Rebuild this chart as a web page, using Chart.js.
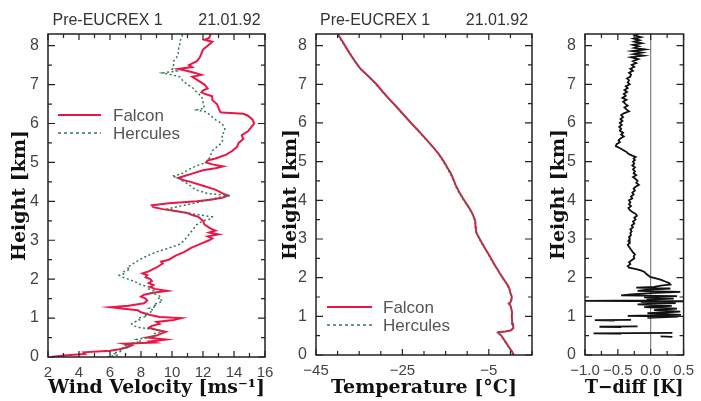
<!DOCTYPE html>
<html>
<head>
<meta charset="utf-8">
<script src="https://cdn.jsdelivr.net/npm/chart.js@4.4.1/dist/chart.umd.min.js"></script>
<style>
  html, body { margin: 0; padding: 0; background: #fff; }
  #wrap { position: relative; width: 701px; height: 401px; overflow: hidden; background: #fff; }
  canvas { position: absolute; top: 0; }
  #windChart { left: 0; }
  #tempChart { left: 275px; }
  #diffChart { left: 545px; }
</style>
</head>
<body>
<div id="wrap">
  <canvas id="windChart" width="285" height="401"></canvas>
  <canvas id="tempChart" width="270" height="401"></canvas>
  <canvas id="diffChart" width="156" height="401"></canvas>
</div>
<script>
// --- data ---
const TITLE = 'Pre-EUCREX 1        21.01.92';
const HEIGHT_MAX = 8.3;
const heightTicks = [0, 1, 2, 3, 4, 5, 6, 7, 8];
const windTicks = [2, 4, 6, 8, 10, 12, 14, 16];
const tempTicks = [-45, -25, -5];
const diffTicks = [-1.0, -0.5, 0.0, 0.5];

// wind velocity [m/s] vs height [km]
const falconWindH = [
  0.0, 0.04, 0.08, 0.12, 0.16, 0.2, 0.25, 0.3, 0.34, 0.37,
  0.4, 0.45, 0.5, 0.55, 0.6, 0.65, 0.7, 0.75, 0.8, 0.85,
  0.9, 0.95, 1.0, 1.03, 1.08, 1.15, 1.2, 1.25, 1.28, 1.32,
  1.38, 1.45, 1.5, 1.55, 1.6, 1.65, 1.7, 1.75, 1.8, 1.85,
  1.9, 1.95, 2.0, 2.05, 2.1, 2.15, 2.2, 2.3, 2.4, 2.45,
  2.5, 2.6, 2.7, 2.8, 2.9, 3.0, 3.05, 3.1, 3.15, 3.2,
  3.25, 3.3, 3.4, 3.5, 3.6, 3.65, 3.7, 3.75, 3.8, 3.85,
  3.9, 3.95, 4.0, 4.05, 4.1, 4.15, 4.2, 4.3, 4.4, 4.5,
  4.55, 4.6, 4.65, 4.7, 4.8, 4.85, 4.9, 4.95, 5.0, 5.05,
  5.1, 5.2, 5.3, 5.4, 5.5, 5.6, 5.7, 5.8, 5.9, 6.0,
  6.1, 6.2, 6.25, 6.28, 6.3, 6.4, 6.5, 6.6, 6.7, 6.75,
  6.8, 6.85, 6.9, 7.0, 7.1, 7.2, 7.25, 7.3, 7.35, 7.4,
  7.45, 7.5, 7.6, 7.7, 7.8, 7.9, 8.0, 8.1, 8.15, 8.2,
  8.3
];
const falconWind = [
  2.2, 3.0, 4.4, 4.3, 6.0, 6.6, 7.1, 7.4, 6.9, 8.9,
  8.6, 9.6, 8.4, 9.0, 9.3, 9.6, 9.0, 8.5, 8.7, 9.2,
  9.0, 10.1, 10.6, 9.2, 8.6, 8.0, 7.8, 6.6, 6.0, 7.2,
  8.2, 8.4, 8.3, 8.0, 8.2, 8.8, 9.7, 8.9, 8.6, 8.8,
  8.5, 8.7, 8.6, 8.3, 8.4, 8.1, 8.5, 9.0, 9.4, 9.3,
  9.8, 10.2, 10.8, 11.2, 11.8, 12.4, 12.6, 12.3, 13.0, 12.4,
  12.8, 12.5, 12.1, 12.0, 11.7, 11.3, 11.0, 10.2, 9.4, 8.8,
  8.7, 9.8, 11.6, 12.6, 13.3, 13.6, 13.3, 12.8, 12.0, 11.2,
  10.7, 10.4, 10.8, 11.2, 12.0, 12.8, 13.3, 12.6, 12.2, 12.3,
  12.8, 13.5, 13.9, 14.2, 14.3, 14.6, 14.5, 14.9, 15.1, 15.3,
  15.2, 14.9, 14.6, 13.2, 13.1, 13.0, 12.9, 12.6, 12.6, 12.2,
  11.9, 12.0, 12.3, 12.1, 11.7, 11.3, 11.9, 11.5, 11.0, 10.4,
  11.3, 11.1, 11.6, 11.8, 11.9, 12.0, 12.3, 12.6, 12.1, 12.4,
  12.5
];
const herculesWindH = [
  0.0, 0.05, 0.1, 0.15, 0.2, 0.25, 0.3, 0.35, 0.4, 0.45,
  0.5, 0.55, 0.6, 0.65, 0.7, 0.75, 0.8, 0.85, 0.9, 0.95,
  1.0, 1.05, 1.1, 1.15, 1.2, 1.25, 1.3, 1.35, 1.4, 1.45,
  1.5, 1.55, 1.6, 1.65, 1.7, 1.75, 1.8, 1.85, 1.9, 1.95,
  2.0, 2.05, 2.1, 2.15, 2.2, 2.25, 2.3, 2.4, 2.5, 2.6,
  2.7, 2.8, 2.9, 3.0, 3.1, 3.2, 3.3, 3.4, 3.5, 3.55,
  3.6, 3.65, 3.7, 3.75, 3.8, 3.85, 3.9, 4.0, 4.1, 4.15,
  4.2, 4.3, 4.4, 4.5, 4.6, 4.65, 4.7, 4.8, 4.9, 5.0,
  5.1, 5.2, 5.3, 5.4, 5.5, 5.6, 5.7, 5.8, 5.9, 6.0,
  6.1, 6.2, 6.3, 6.35, 6.4, 6.5, 6.6, 6.7, 6.8, 6.9,
  7.0, 7.1, 7.2, 7.25, 7.3, 7.35, 7.4, 7.5, 7.6, 7.7,
  7.8, 7.9, 8.0, 8.1, 8.2, 8.3
];
const herculesWind = [
  5.8, 6.5, 6.2, 6.8, 6.6, 7.2, 7.0, 7.4, 8.0, 7.7,
  8.5, 8.9, 8.8, 9.4, 9.0, 8.0, 7.5, 7.4, 7.6, 7.9,
  7.8, 8.4, 8.2, 8.6, 8.8, 8.5, 9.0, 8.8, 9.2, 9.4,
  9.1, 9.3, 9.0, 8.7, 8.9, 8.5, 8.6, 8.0, 7.8, 7.5,
  7.2, 6.8, 6.6, 7.0, 6.9, 7.3, 7.1, 7.5, 7.9, 8.4,
  9.0, 9.8, 10.5, 10.8, 11.0, 11.2, 11.4, 11.6, 12.0, 12.5,
  12.6, 11.8, 11.0, 10.4, 9.7, 10.2, 10.8, 12.0, 13.0, 13.8,
  12.3, 11.5, 11.2, 10.8, 10.4, 10.0, 10.6, 11.0, 11.5, 12.2,
  12.4, 12.5, 12.6, 12.9, 13.2, 13.3, 13.2, 13.4, 13.4, 13.2,
  12.8, 12.5, 12.2, 11.6, 12.1, 12.0, 12.0, 11.9, 11.6, 11.4,
  11.0, 10.7, 10.5, 10.0, 9.4, 10.3, 10.0, 10.1, 10.1, 10.3,
  10.4, 10.4, 10.5, 10.5, 10.6, 10.7
];

// temperature [deg C] vs height [km]
const falconTempH = [
  0.00, 0.10, 0.20, 0.30, 0.40, 0.50, 0.56, 0.59, 0.61, 0.64,
  0.70, 0.80, 0.90, 1.00, 1.10, 1.20, 1.28, 1.33, 1.38, 1.45,
  1.52, 1.60, 1.70, 1.76, 1.80, 1.90, 2.00, 2.10, 2.20, 2.30,
  2.40, 2.60, 2.80, 3.00, 3.16, 3.30, 3.45, 3.55, 3.70, 3.85,
  4.00, 4.20, 4.40, 4.55, 4.70, 4.85, 5.00, 5.20, 5.40, 5.60,
  5.80, 6.00, 6.20, 6.40, 6.60, 6.80, 7.00, 7.20, 7.40, 7.60,
  7.80, 8.00, 8.15, 8.30
];
const falconTemp = [
  0.8, 0.3, -0.3, -0.9, -1.5, -2.1, -2.7, -2.8, -1.2, 0.2,
  0.7, 0.6, 0.4, 0.3, 0.4, 0.2, 0.0, -0.4, 0.1, 0.3,
  0.3, 0.0, -0.2, -0.4, -0.6, -1.2, -1.8, -2.4, -2.9, -3.5,
  -4.0, -5.0, -6.1, -7.1, -7.9, -8.0, -8.1, -8.4, -9.0, -9.8,
  -10.7, -11.8, -12.7, -13.2, -13.8, -14.6, -15.4, -16.6, -18.1, -19.7,
  -21.3, -23.0, -24.6, -26.2, -27.9, -29.5, -31.0, -32.8, -34.7, -36.0,
  -37.2, -38.3, -39.1, -40.0
];
const herculesTempH = [
  0.00, 0.15, 0.30, 0.45, 0.55, 0.58, 0.60, 0.63, 0.68, 0.80,
  0.95, 1.10, 1.25, 1.35, 1.45, 1.55, 1.65, 1.75, 1.85, 2.00,
  2.20, 2.40, 2.70, 3.00, 3.20, 3.40, 3.60, 3.80, 4.00, 4.30,
  4.60, 4.80, 5.00, 5.30, 5.60, 5.90, 6.20, 6.50, 6.80, 7.10,
  7.40, 7.70, 8.00, 8.30
];
const herculesTemp = [
  0.6, -0.1, -1.0, -1.9, -2.5, -2.9, -1.8, -0.2, 0.6, 0.5,
  0.4, 0.3, 0.1, -0.2, 0.2, 0.1, -0.1, -0.5, -0.9, -1.9,
  -2.9, -4.1, -5.6, -7.2, -7.9, -8.1, -8.5, -9.6, -10.8, -12.4,
  -13.5, -14.5, -15.5, -17.3, -19.8, -22.2, -24.7, -27.1, -29.6, -31.9,
  -34.8, -36.6, -38.4, -40.1
];

// temperature difference [K] vs height [km], null = gap in record
const diffH = [
  8.30, 8.26, 8.22, 8.18, 8.14, 8.10, 8.06, 8.02, 7.98, 7.94,
  7.90, 7.86, 7.82, 7.78, 7.74, 7.70, 7.65, 7.60, 7.55, 7.50,
  7.45, 7.40, 7.35, 7.30, 7.25, 7.20, 7.15, 7.10, 7.05, 7.00,
  6.95, 6.90, 6.85, 6.80, 6.75, 6.70, 6.65, 6.60, 6.55, 6.50,
  6.45, 6.40, 6.35, 6.30, 6.25, 6.20, 6.15, 6.10, 6.05, 6.00,
  5.95, 5.90, 5.85, 5.80, 5.75, 5.70, 5.65, 5.60, 5.55, 5.50,
  5.45, 5.40, 5.36, 5.32, 5.28, 5.24, 5.20, 5.16, 5.12, 5.08,
  5.04, 5.00, 4.95, 4.90, 4.85, 4.80, 4.75, 4.70, 4.65, 4.60,
  4.55, 4.50, 4.45, 4.40, 4.35, 4.30, 4.25, 4.20, 4.15, 4.10,
  4.05, 4.00, 3.95, 3.90, 3.85, 3.80, 3.75, 3.70, 3.65, 3.60,
  3.55, 3.50, 3.45, 3.40, 3.35, 3.30, 3.25, 3.20, 3.15, 3.10,
  3.05, 3.00, 2.95, 2.90, 2.85, 2.80, 2.75, 2.70, 2.65, 2.60,
  2.55, 2.50, 2.45, 2.40, 2.35, 2.30, 2.26, 2.22, 2.18, 2.14,
  2.10, 2.06, 2.02, 1.98, 1.94, 1.90, 1.86, 1.82, 1.80, 1.76,
  1.74, 1.72, 1.69, 1.66, 1.63, 1.60, 1.57, 1.54, 1.52, 1.49,
  1.46, 1.43, 1.41, 1.40, 1.39, 1.37, 1.34, 1.31, 1.27, 1.24,
  1.20, 1.16, 1.12, 1.08, 1.04, 1.01, 0.99, 0.96, 0.94, 0.91,
  0.90, 0.89, 0.88, 0.74, 0.73, 0.72, 0.71, 0.57, 0.56, 0.55,
  0.54, 0.48, 0.47
];
const diffT = [
  -0.19, -0.24, -0.15, -0.26, -0.17, -0.25, -0.14, -0.27, -0.18, -0.25,
  -0.09, -0.28, -0.13, -0.26, -0.11, -0.30, -0.19, -0.27, -0.22, -0.29,
  -0.25, -0.31, -0.27, -0.33, -0.30, -0.31, -0.36, -0.33, -0.35, -0.32,
  -0.38, -0.35, -0.40, -0.36, -0.41, -0.38, -0.43, -0.37, -0.42, -0.39,
  -0.35, -0.40, -0.37, -0.33, -0.41, -0.45, -0.42, -0.46, -0.43, -0.47,
  -0.44, -0.48, -0.45, -0.47, -0.42, -0.45, -0.41, -0.46, -0.49, -0.47,
  -0.52, -0.53, -0.48, -0.44, -0.40, -0.36, -0.34, -0.29, -0.23, -0.26,
  -0.24, -0.27, -0.25, -0.28, -0.24, -0.27, -0.24, -0.26, -0.22, -0.27,
  -0.23, -0.20, -0.22, -0.18, -0.23, -0.26, -0.24, -0.28, -0.26, -0.30,
  -0.28, -0.33, -0.31, -0.33, -0.30, -0.34, -0.32, -0.28, -0.23, -0.21,
  -0.25, -0.23, -0.27, -0.25, -0.29, -0.27, -0.31, -0.29, -0.31, -0.30,
  -0.33, -0.32, -0.34, -0.32, -0.35, -0.33, -0.31, -0.29, -0.27, -0.24,
  -0.26, -0.25, -0.29, -0.33, -0.31, -0.35, -0.33, -0.22, -0.14, -0.09,
  -0.07, -0.04, -0.01, 0.08, 0.16, 0.22, 0.28, 0.30, 0.18, 0.05,
  -0.22, 0.30, -0.05, -0.20, 0.45, 0.00, -0.30, -0.45, 0.40, -0.10,
  0.35, -0.05, -0.05, -1.00, 0.50, -0.15, 0.38, -0.20, 0.32, -0.10,
  0.40, 0.05, 0.45, -0.05, 0.46, -0.35, 0.42, -0.05, null, -0.30,
  -0.85, -0.55, null, -0.20, -0.78, -0.45, null, 0.33, -0.87, -0.45,
  null, 0.15, 0.33
];

const RED = 'rgb(236, 22, 70)';
const GREEN = 'rgb(50, 120, 84)';
const SANS = "'Liberation Sans', Arial, sans-serif";
const SERIF_BOLD = { family: "'DejaVu Serif', serif", size: 19, weight: 'bold' };

const toPoints = (hs, vs) => hs.map((h, i) => ({ x: vs[i], y: h }));
const minus = s => String(s).replace('-', '\u2212');

// box around the plot with inward ticks on all four sides
const frameTicks = {
  id: 'frameTicks',
  beforeDatasetsDraw(chart, args, opts) {
    if (opts.zeroLine === undefined) return;
    const { ctx, chartArea: a, scales: { x } } = chart;
    const px = x.getPixelForValue(opts.zeroLine);
    ctx.save();
    ctx.strokeStyle = '#666';
    ctx.lineWidth = 1;
    ctx.beginPath();
    ctx.moveTo(px, a.top);
    ctx.lineTo(px, a.bottom);
    ctx.stroke();
    ctx.restore();
  },
  afterDraw(chart, args, opts) {
    const { ctx, chartArea: a, scales: { x, y } } = chart;
    ctx.save();
    ctx.strokeStyle = '#222';
    ctx.lineWidth = 1.5;
    ctx.strokeRect(a.left, a.top, a.right - a.left, a.bottom - a.top);
    ctx.lineWidth = 1.2;
    ctx.beginPath();
    const steps = (from, to, step) => {
      const out = [];
      for (let k = 0; from + k * step <= to + 1e-9; k++) out.push(from + k * step);
      return out;
    };
    const isMajor = (v, from, major) => Math.abs(((v - from) / major) - Math.round((v - from) / major)) < 1e-6;
    steps(opts.xFrom, x.max, opts.xMinor).forEach(v => {
      const px = x.getPixelForValue(v);
      const len = isMajor(v, opts.xFrom, opts.xMajor) ? 6 : 4;
      ctx.moveTo(px, a.bottom); ctx.lineTo(px, a.bottom - len);
      ctx.moveTo(px, a.top); ctx.lineTo(px, a.top + len);
    });
    steps(0, y.max, 0.5).forEach(v => {
      const py = y.getPixelForValue(v);
      const len = isMajor(v, 0, 1) ? 7 : 4;
      ctx.moveTo(a.left, py); ctx.lineTo(a.left + len, py);
      ctx.moveTo(a.right, py); ctx.lineTo(a.right - len, py);
    });
    ctx.stroke();
    ctx.restore();
  }
};

// legend drawn inside the plot area
const pairLegend = {
  id: 'pairLegend',
  afterDatasetsDraw(chart, args, opts) {
    const { ctx, chartArea: a } = chart;
    ctx.save();
    chart.data.datasets.forEach((ds, i) => {
      const x = a.left + opts.left;
      const y = a.top + opts.top + i * opts.row;
      ctx.strokeStyle = ds.borderColor;
      ctx.lineWidth = ds.borderWidth;
      ctx.setLineDash(ds.borderDash ? [3, 3] : []);
      ctx.beginPath();
      ctx.moveTo(x, y);
      ctx.lineTo(x + opts.length, y);
      ctx.stroke();
      ctx.setLineDash([]);
      ctx.fillStyle = '#555';
      ctx.font = '17px ' + SANS;
      ctx.textBaseline = 'middle';
      ctx.fillText(ds.label, x + opts.length + opts.gap, y + 1);
    });
    ctx.restore();
  }
};

function heightAxis(width, titlePad) {
  return {
    type: 'linear', position: 'left', min: 0, max: HEIGHT_MAX,
    afterBuildTicks: s => { s.ticks = heightTicks.map(v => ({ value: v })); },
    afterFit: s => { s.width = width; },
    grid: { display: false, drawTicks: false },
    border: { display: false },
    ticks: { padding: 9, color: '#444', font: { family: SANS, size: 16 } },
    title: { display: true, text: 'Height [km]', color: '#111', font: SERIF_BOLD, padding: { top: titlePad, bottom: 0 } }
  };
}

function bottomAxis(min, max, tickList, fmt, height, title) {
  return {
    type: 'linear', position: 'bottom', min: min, max: max,
    afterBuildTicks: s => { s.ticks = tickList.map(v => ({ value: v })); },
    afterFit: s => { s.height = height; },
    grid: { display: false, drawTicks: false },
    border: { display: false },
    ticks: { autoSkip: false, maxRotation: 0, padding: 7, color: '#444', font: { family: SANS, size: 15 }, callback: fmt },
    title: { display: true, text: title, color: '#111', font: SERIF_BOLD, padding: { top: 0, bottom: 2 } }
  };
}

function topAxis(min, max, title) {
  return {
    type: 'linear', position: 'top', display: true, min: min, max: max,
    afterFit: s => { s.height = 34; },
    grid: { display: false, drawTicks: false },
    border: { display: false },
    ticks: { display: false },
    title: { display: !!title, text: title || '', color: '#333', font: { family: SANS, size: 16 }, padding: { top: 11, bottom: 0 } }
  };
}

function makeChart(id, cfg) {
  return new Chart(document.getElementById(id), {
    type: 'scatter',
    data: { datasets: cfg.datasets },
    options: {
      responsive: false,
      animation: false,
      layout: { padding: { left: 0, right: cfg.padRight, top: 0, bottom: 0 } },
      elements: { point: { radius: 0 }, line: { tension: 0 } },
      plugins: {
        legend: { display: false },
        tooltip: { enabled: false },
        frameTicks: cfg.frame,
        pairLegend: cfg.legend || false
      },
      scales: {
        x: cfg.x,
        x2: cfg.x2,
        y: cfg.y
      }
    },
    plugins: [frameTicks, pairLegend]
  });
}

const falconStyle = { borderColor: RED, borderWidth: 2, showLine: true, order: 1 };
const herculesStyle = { borderColor: GREEN, borderWidth: 1.5, borderDash: [2, 2.5], showLine: true, order: 0 };

makeChart('windChart', {
  padRight: 20,
  datasets: [
    Object.assign({ label: 'Falcon', data: toPoints(falconWindH, falconWind) }, falconStyle),
    Object.assign({ label: 'Hercules', data: toPoints(herculesWindH, herculesWind) }, herculesStyle)
  ],
  x: bottomAxis(2, 16, windTicks, v => minus(v), 44, 'Wind Velocity [ms\u207B\u00B9]'),
  x2: topAxis(2, 16, TITLE),
  y: heightAxis(48, 9),
  frame: { xFrom: 2, xMinor: 1, xMajor: 2 },
  legend: { left: 10, top: 81, row: 18, length: 43, gap: 12 }
});

makeChart('tempChart', {
  padRight: 13,
  datasets: [
    Object.assign({ label: 'Falcon', data: toPoints(falconTempH, falconTemp) }, falconStyle),
    Object.assign({ label: 'Hercules', data: toPoints(herculesTempH, herculesTemp) }, herculesStyle)
  ],
  x: bottomAxis(-45, 5, tempTicks, v => minus(v), 46, 'Temperature [\u00B0C]'),
  x2: topAxis(-45, 5, TITLE),
  y: heightAxis(41, 5),
  frame: { xFrom: -45, xMinor: 5, xMajor: 20 },
  legend: { left: 11, top: 273, row: 18, length: 45, gap: 11 }
});

makeChart('diffChart', {
  padRight: 8,
  datasets: [
    { label: 'T-diff', data: toPoints(diffH, diffT), borderColor: '#111', borderWidth: 1.8, showLine: true, spanGaps: false }
  ],
  x: bottomAxis(-1, 0.5, diffTicks, v => minus(Number(v).toFixed(1)), 46, 'T\u2212diff [K]'),
  x2: topAxis(-1, 0.5, ''),
  y: heightAxis(40, 3),
  frame: { xFrom: -1, xMinor: 0.25, xMajor: 0.5, zeroLine: 0 }
});
</script>
</body>
</html>
